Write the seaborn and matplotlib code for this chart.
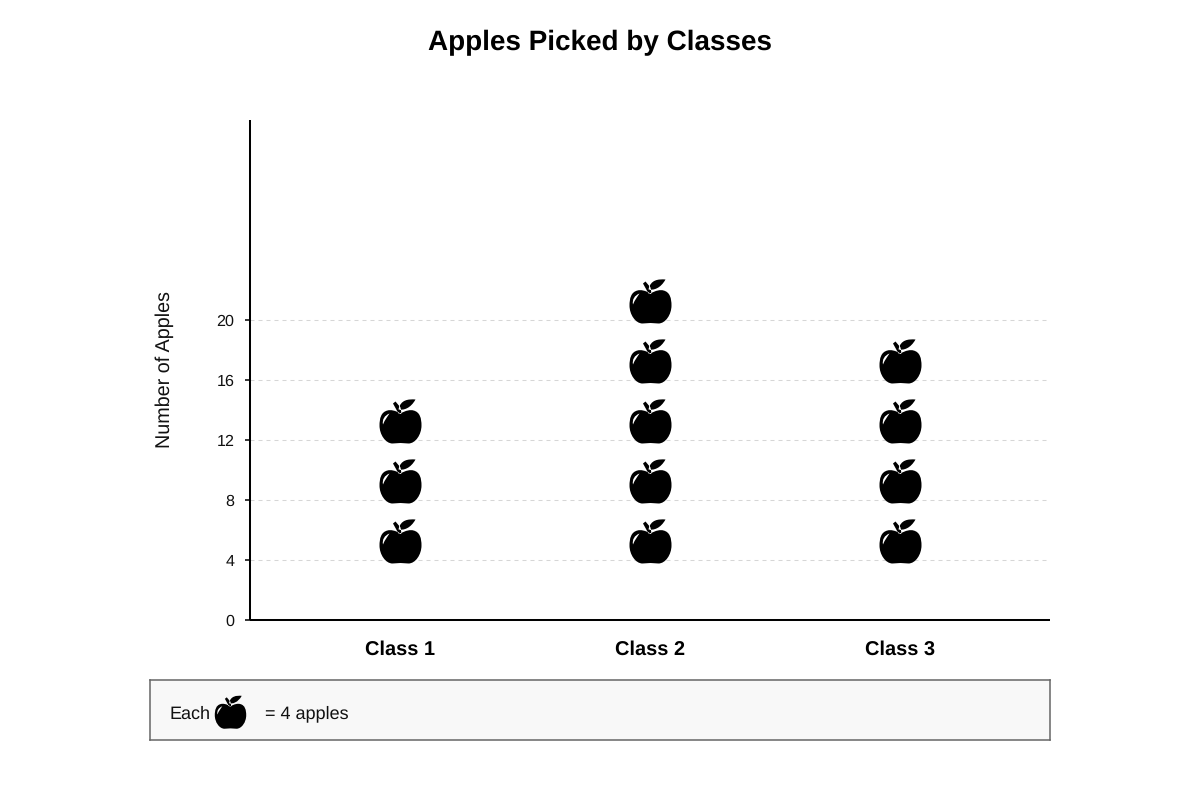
import numpy as np
import pandas as pd
import matplotlib
matplotlib.use("Agg")
import matplotlib.pyplot as plt
from matplotlib.path import Path
import seaborn as sns

classes = ["Class 1", "Class 2", "Class 3"]
apples = [12, 20, 16]
apples_per_icon = 4
y_ticks = [0, 4, 8, 12, 16, 20]

sns.set_theme(style="white")
plt.rcParams["font.family"] = ["Liberation Sans", "DejaVu Sans"]
plt.rcParams["text.hinting"] = "no_hinting"

# apple outline, in reference pixels, origin at the value it stands for
M, L, C, Z = Path.MOVETO, Path.LINETO, Path.CURVE4, Path.CLOSEPOLY
body = [(0, 27), (-5, 30), (-10, 31), (-13, 30), (-19.5, 28.5), (-21, 22), (-21, 15),
        (-21, 6), (-15, -3), (-8, -3), (-5, -3), (-3, -2.5), (0, -2.5),
        (3, -2.5), (5, -3), (8, -3), (15, -3), (21, 6), (21, 15),
        (21, 22), (19.5, 28.5), (13, 30), (10, 31), (5, 30), (0, 27), (0, 27)]
body_codes = [M] + [C] * 24 + [Z]
glint = [(-17.5, 16), (-18.5, 21), (-16, 25), (-11, 27), (-13, 24), (-15.5, 21), (-17.5, 16), (-17.5, 16)]
glint_codes = [M] + [C] * 6 + [Z]
leaf = [(-2, 31), (3, 30), (10, 32), (15, 41), (8, 41.5), (0, 41), (-2, 31), (-2, 31)]
leaf_codes = [M] + [C] * 6 + [Z]
stem = [(-7.5, 37), (-5, 39), (0, 33), (1, 27), (-2, 27), (-7.5, 37)]
stem_codes = [M, L, L, L, L, Z]
apple = Path(body + glint + leaf + stem, body_codes + glint_codes + leaf_codes + stem_codes)
apple_size = (41.5 * 2 * 72 / 100) ** 2


def Picture(ax):
    rows = []
    for name, total in zip(classes, apples):
        for n in range(apples_per_icon, total + 1, apples_per_icon):
            rows.append({"Class": name, "Apples": n})
    icons = pd.DataFrame(rows)
    sns.scatterplot(data=icons, x="Class", y="Apples", marker=apple, s=apple_size,
                    color="black", linewidth=0, clip_on=False, zorder=3, ax=ax)
    ax.set_xlim(-0.6, 2.6)
    ax.set_ylim(0, 100 / 3)
    ax.set_yticks(y_ticks)
    ax.grid(axis="y", color="#d6d6d6", linestyle=(0, (3.84, 3.84)), linewidth=0.75)
    ax.set_axisbelow(True)
    ax.tick_params(axis="y", length=3.6, width=1.1, color="black", left=True, pad=7.5,
                   labelsize=11.6, labelcolor="#111111")
    ax.tick_params(axis="x", length=0, pad=14.5)
    for label in ax.get_yticklabels():
        label.set_verticalalignment("center_baseline")
    for label in ax.get_xticklabels():
        label.set_fontsize(14.4)
        label.set_fontweight("bold")
        label.set_color("black")
    sns.despine(ax=ax)
    for side in ["left", "bottom"]:
        ax.spines[side].set_linewidth(1.45)
        ax.spines[side].set_color("black")
        ax.spines[side].set_capstyle("butt")
    ax.set_xlabel("")
    ax.set_ylabel("Number of Apples", fontsize=14.2, color="#111111", labelpad=31)


def Key(ax):
    ax.set_facecolor("#f8f8f8")
    ax.set_xlim(0, 900)
    ax.set_ylim(0, 60)
    ax.set_xticks([])
    ax.set_yticks([])
    for spine in ax.spines.values():
        spine.set_visible(True)
        spine.set_color("#666666")
        spine.set_linewidth(1.1)
    sns.scatterplot(x=[80], y=[14.5], marker=apple, s=apple_size * 0.56, color="black",
                    linewidth=0, ax=ax)
    ax.text(19.5, 21.5, "Each", fontsize=13, va="baseline", color="#111111")
    ax.text(115, 21.5, "= " + str(apples_per_icon) + " apples", fontsize=13, va="baseline",
            color="#111111")


if __name__ == "__main__":
    fig = plt.figure(figsize=(12, 8), dpi=100)
    fig.patch.set_facecolor("white")
    ax = fig.add_axes([250 / 1200, 1 - 620 / 800, 800 / 1200, 500 / 800])
    Picture(ax)
    key = fig.add_axes([150 / 1200, 1 - 740 / 800, 900 / 1200, 60 / 800])
    Key(key)
    fig.text(0.5, 1 - 43 / 800, "Apples Picked by Classes", fontsize=20.1, fontweight="bold",
             ha="center", va="center", color="black")
    fig.savefig("out.png", dpi=100)
